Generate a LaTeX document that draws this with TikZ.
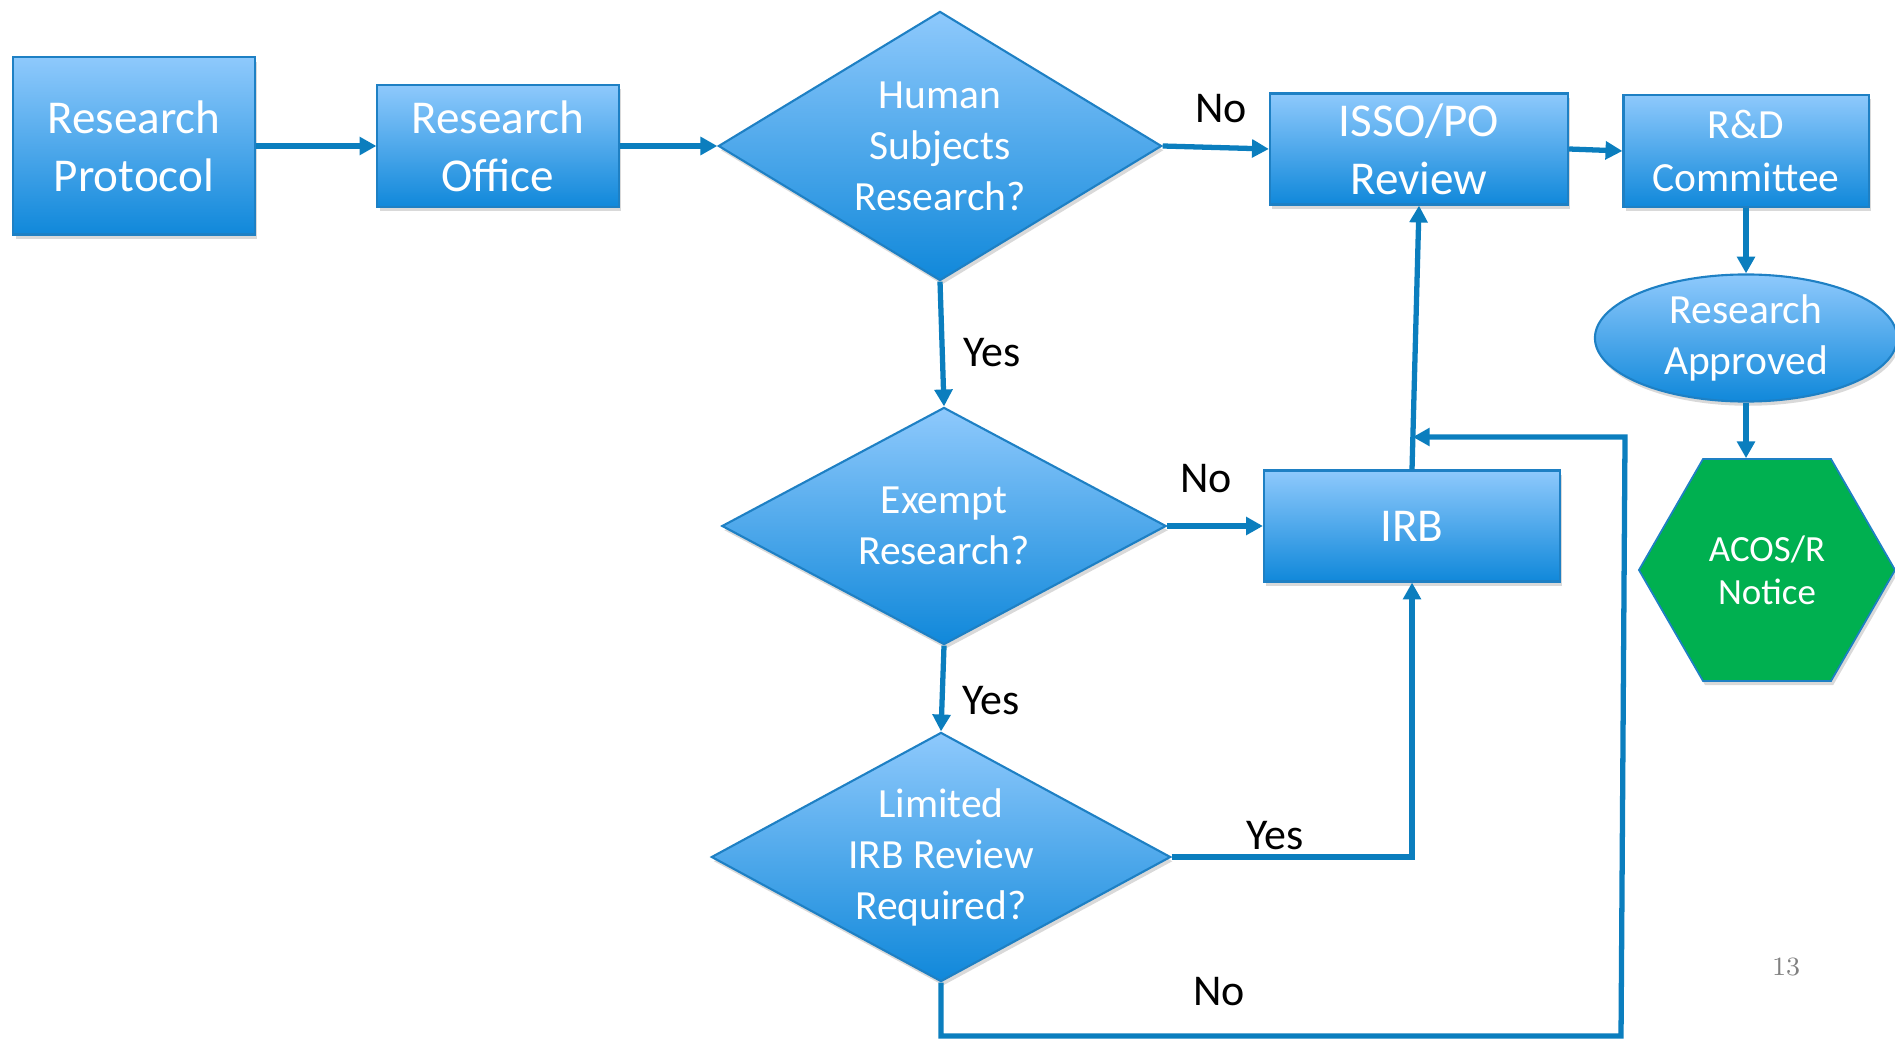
\documentclass[tikz,border=0pt]{standalone}
\usepackage{fontspec}
\newfontfamily\calibri{Carlito}
\usetikzlibrary{shapes.geometric, arrows.meta, shadows, calc}

\definecolor{boxtop}{RGB}{142,201,252}
\definecolor{boxbot}{RGB}{16,136,218}
\definecolor{boxline}{RGB}{30,128,196}
\definecolor{flowline}{RGB}{11,126,190}
\definecolor{noticegreen}{RGB}{0,176,80}

\tikzset{
  proc/.style={rectangle, draw=boxline, line width=0.6pt, top color=boxtop, bottom color=boxbot,
    text=white, align=center, inner sep=0pt, font=\calibri\fontsize{13.4}{16.4}\selectfont,
    drop shadow={opacity=0.3, shadow xshift=0.6pt, shadow yshift=-1.2pt}},
  decision/.style={proc, diamond, font=\calibri\fontsize{11.8}{14.5}\selectfont},
  approved/.style={proc, ellipse, font=\calibri\fontsize{11.8}{14.5}\selectfont},
  notice/.style={regular polygon, regular polygon sides=6, minimum size=2.56cm, inner sep=0pt,
    fill=noticegreen, draw=boxline, line width=0.5pt, text=white, align=center,
    font=\calibri\fontsize{10.5}{12.2}\selectfont,
    drop shadow={opacity=0.3, shadow xshift=0.6pt, shadow yshift=-1.2pt}},
  flow/.style={draw=flowline, line width=1.5pt, -{Triangle[length=4.8pt, width=5pt]}},
  answer/.style={font=\calibri\fontsize{12.5}{15}\selectfont}
}

\begin{document}
\begin{tikzpicture}[x=0.01cm, y=-0.01cm]
\useasboundingbox (0,0) rectangle (1895,1040);

% top row
\node[proc, minimum width=2.41cm, minimum height=1.77cm] (RP) at (134,146) {Research\\Protocol};
\node[proc, minimum width=2.41cm, minimum height=1.22cm] (RO) at (498,146) {Research\\Office};
\node[decision, aspect=1.65, minimum width=4.43cm, minimum height=2.69cm] (HS) at (940,146) {Human\\Subjects\\Research?};
\node[proc, minimum width=2.98cm, minimum height=1.11cm] (ISSO) at (1419,149) {ISSO/PO\\Review};
\node[proc, font=\calibri\fontsize{11.8}{14.8}\selectfont, minimum width=2.45cm, minimum height=1.12cm] (RD) at (1746,151) {R\&D\\Committee};

% right column
\node[approved, minimum width=3.02cm, minimum height=1.27cm] (OK) at (1746,338) {Research\\Approved};
\node[notice] (ACOS) at (1767,570) {ACOS/R\\Notice};

% middle column
\node[decision, aspect=1.87, minimum width=4.44cm, minimum height=2.37cm] (EX) at (944,526) {Exempt\\Research?};
\node[proc, minimum width=2.96cm, minimum height=1.11cm] (IRB) at (1412,526) {IRB};
\node[decision, aspect=1.84, minimum width=4.59cm, minimum height=2.49cm] (LIM) at (941,857) {Limited\\IRB Review\\Required?};

% loop corners
\coordinate (cornerB) at (1621,1036);
\coordinate (cornerT) at (1625,437);
\coordinate (join) at ($(IRB.north)!0.12!(ISSO.south)$);

% arrows
\draw[flow] (RP.east) -- (RO.west);
\draw[flow] (RO.east) -- (HS.west);
\draw[flow] (HS.east) -- (ISSO.west);
\draw[flow] (ISSO.east) -- (RD.west);
\draw[flow] (RD.south) -- (OK.north);
\draw[flow] (OK.south) -- (OK.south |- ACOS.north);
\draw[flow] (HS.south) -- (EX.north);
\draw[flow] (EX.east) -- (IRB.west);
\draw[flow] (EX.south) -- (LIM.north);
\draw[flow] (IRB.north) -- (ISSO.south);
\draw[flow] (LIM.east) -| (IRB.south);
\draw[flow] (LIM.south) |- (cornerB) -- (cornerT) -- (join |- cornerT);

% answers
\node[answer] (noHS) at (1221,109) {No};
\node[answer] (yesHS) at (992,353) {Yes};
\node[answer] (noEX) at (1206,479) {No};
\node[answer] (yesEX) at (991,701) {Yes};
\node[answer] (yesLIM) at (1275,836) {Yes};
\node[answer] (noLIM) at (1219,992) {No};

% page number
\node[text=gray, font=\fontsize{7.5}{9}\selectfont] (page) at (1786,967) {13};
\end{tikzpicture}
\end{document}
